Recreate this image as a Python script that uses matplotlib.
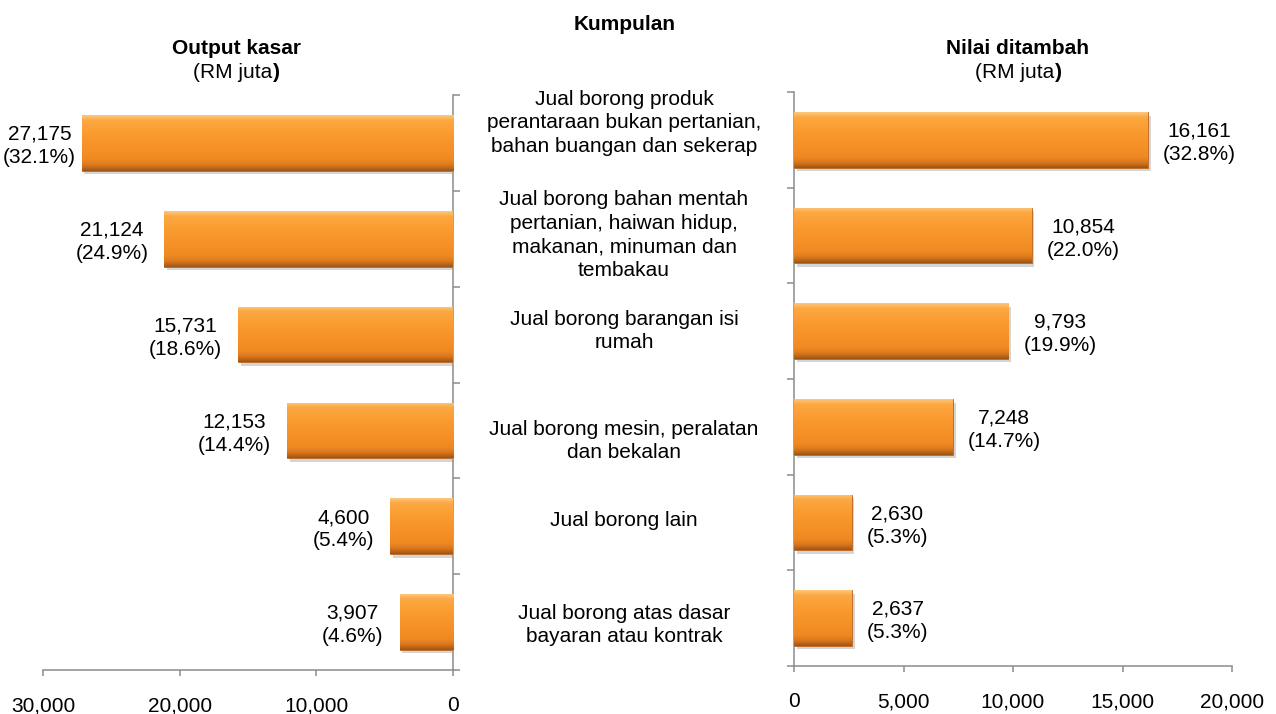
import matplotlib
matplotlib.use("Agg")
import matplotlib.pyplot as plt
import matplotlib.patheffects as pe
import numpy as np
from matplotlib.colors import to_rgb
from matplotlib.ticker import FuncFormatter

plt.rcParams['font.family'] = ['Liberation Sans', 'DejaVu Sans']

# ---------------- data ----------------
categories = [
    "Jual borong produk\nperantaraan bukan pertanian,\nbahan buangan dan sekerap",
    "Jual borong bahan mentah\npertanian, haiwan hidup,\nmakanan, minuman dan\ntembakau",
    "Jual borong barangan isi\nrumah",
    "Jual borong mesin, peralatan\ndan bekalan",
    "Jual borong lain",
    "Jual borong atas dasar\nbayaran atau kontrak",
]
output_kasar = [27175, 21124, 15731, 12153, 4600, 3907]
output_pct = [32.1, 24.9, 18.6, 14.4, 5.4, 4.6]
nilai_ditambah = [16161, 10854, 9793, 7248, 2630, 2637]
nilai_pct = [32.8, 22.0, 19.9, 14.7, 5.3, 5.3]
left_ticks = [0, 10000, 20000, 30000]
right_ticks = [0, 5000, 10000, 15000, 20000]

# ---------------- layout ----------------
W, H = 1276, 714
fig = plt.figure(figsize=(W / 100, H / 100), dpi=100)
FS = 15
AXC = '#8C8C8C'
LS = 1.3

def fx(px):
    return px / W

def fy(py):
    return 1 - py / H

axL = fig.add_axes([fx(43), fy(670), fx(453 - 43), (670 - 95) / H])
axR = fig.add_axes([fx(794), fy(666), fx(1232 - 794), (666 - 92) / H])

stops = [(0.0, '#FDC67A'), (0.09, '#FCA841'), (0.40, '#F9982C'),
         (0.80, '#EF8A22'), (0.91, '#D8761C'), (1.0, '#A05618')]
N = 64
t = np.linspace(0, 1, N)
grad = np.zeros((N, 1, 3))
for c in range(3):
    grad[:, 0, c] = np.interp(t, [s[0] for s in stops], [to_rgb(s[1])[c] for s in stops])

BH = 0.58

def draw_bars(ax, vals):
    ypos = np.arange(len(vals))
    bars = ax.barh(ypos, vals, height=BH, color='#F5902A', edgecolor='#B8641C',
                   linewidth=0.6, zorder=2)
    for rect, y in zip(bars, ypos):
        rect.set_path_effects([pe.SimplePatchShadow(offset=(2, -2.5), shadow_rgbFace='#888888', alpha=0.35),
                               pe.Normal()])
        x0 = rect.get_x()
        w = rect.get_width()
        im = ax.imshow(grad, extent=(x0, x0 + w, y + BH / 2, y - BH / 2), origin='upper',
                       aspect='auto', interpolation='bilinear', zorder=3)
        im.set_clip_path(rect)
    return bars

def style(ax, side):
    for s in ['top', 'left', 'right', 'bottom']:
        ax.spines[s].set_visible(False)
    ax.spines['bottom'].set_visible(True)
    ax.spines[side].set_visible(True)
    for s in ['bottom', side]:
        ax.spines[s].set_color(AXC)
        ax.spines[s].set_linewidth(1.1)
    ax.set_ylim(5.5, -0.5)
    ax.set_yticks(np.arange(-0.5, 6.0, 1.0))
    ax.set_yticklabels([])
    ax.tick_params(axis='y', direction='out', length=5, width=1.1, color=AXC,
                   left=(side == 'left'), right=(side == 'right'))
    ax.tick_params(axis='x', direction='out', length=4, width=1.1, color=AXC,
                   labelsize=FS, pad=15)
    ax.xaxis.set_major_formatter(FuncFormatter(lambda v, p: f"{int(v):,}"))
    ax.set_facecolor('none')

draw_bars(axL, output_kasar)
draw_bars(axR, nilai_ditambah)
style(axL, 'right')
style(axR, 'left')
axL.set_xlim(30000, 0)
axL.set_xticks(left_ticks)
axR.set_xlim(0, 20000)
axR.set_xticks(right_ticks)

# value labels
left_anns = []
for i, (v, p) in enumerate(zip(output_kasar, output_pct)):
    a = axL.annotate(f"{v:,}\n({p:.1f}%)", xy=(v, i), xytext=(-16, -3),
                     textcoords='offset pixels', ha='right', va='center',
                     multialignment='center', fontsize=FS, linespacing=LS)
    left_anns.append(a)
for i, (v, p) in enumerate(zip(nilai_ditambah, nilai_pct)):
    axR.annotate(f"{v:,}\n({p:.1f}%)", xy=(v, i), xytext=(15, -3),
                 textcoords='offset pixels', ha='left', va='center',
                 multialignment='center', fontsize=FS, linespacing=LS)

# category labels (pixel centres of each text block)
cat_y = [123, 235, 331, 441, 520, 625]
for txt, py in zip(categories, cat_y):
    fig.text(fx(624), fy(py), txt, ha='center', va='center', fontsize=FS,
             multialignment='center', linespacing=LS)

# titles
fig.text(fx(625), fy(24), "Kumpulan", ha='center', va='center', fontsize=FS, fontweight='bold')

def panel_title(xc, title):
    fig.text(fx(xc), fy(48), title, ha='center', va='center', fontsize=FS, fontweight='bold')
    t1 = fig.text(fx(xc - 3), fy(72), "(RM juta", ha='center', va='center', fontsize=FS)
    plt.annotate(")", xy=(1, 0), xycoords=t1, xytext=(0.5, 0), textcoords='offset pixels',
                 ha='left', va='bottom', fontsize=FS, fontweight='bold',
                 annotation_clip=False)

panel_title(236, "Output kasar")
panel_title(1018, "Nilai ditambah")

# keep left labels inside figure
fig.canvas.draw()
r = fig.canvas.get_renderer()
for a in left_anns:
    bb = a.get_window_extent(r)
    if bb.x0 < 3:
        ox, oy = a.xyann
        a.xyann = (ox + (3 - bb.x0), oy)

fig.savefig("out.png", dpi=100)
